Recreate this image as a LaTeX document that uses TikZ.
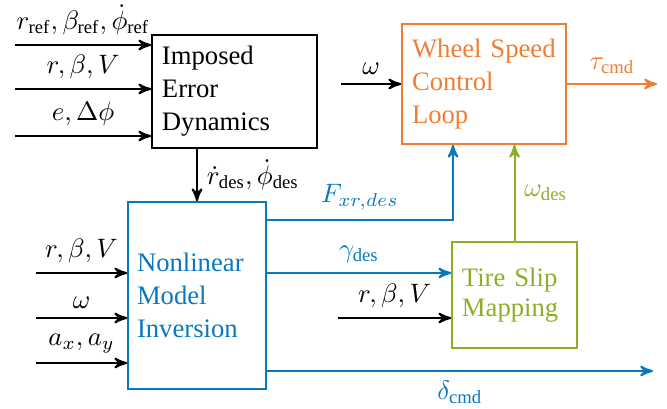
\documentclass[tikz,border=0pt]{standalone}
\usepackage{fontspec}
\setmainfont{Liberation Serif}
\usetikzlibrary{arrows}
\definecolor{wsorange}{RGB}{240,125,50}
\definecolor{nmiblue}{RGB}{10,120,190}
\definecolor{tsgreen}{RGB}{140,175,40}
\tikzstyle{block} = [rectangle, draw, line width=0.6pt, inner xsep=3.75pt,
    align=left, font=\fontsize{10}{12.4}\selectfont]
\tikzstyle{line} = [draw, line width=0.75pt, -stealth']

\begin{document}
\begin{tikzpicture}[x=0.375pt, y=-0.375pt]
		\useasboundingbox (0,0) rectangle (667,409);
		\node [block, minimum width=61.9pt, minimum height=42.4pt, text width=54.4pt] (ied) at (234.5,91.5) {Imposed\\Error\\Dynamics};
		\node [block, nmiblue, minimum width=51.75pt, minimum height=70.1pt, text width=45pt, inner xsep=3.4pt] (nmi) at (197,295.5) {Nonlinear\\Model\\Inversion};
		\node [block, wsorange, minimum width=61.5pt, minimum height=45pt, text width=54pt] (wsc) at (484,84) {Wheel Speed\\Control\\Loop};
		\node [block, tsgreen, minimum width=46.9pt, minimum height=39.75pt, text width=39.4pt, font=\fontsize{10}{11.3}\selectfont] (tsm) at (514.5,295) {Tire Slip\\Mapping};
		
		% inputs
		\coordinate (ref) at (15,45);
		\coordinate (meas) at (15,89);
		\coordinate (err) at (15,136);
		\coordinate (nin1) at (36,273);
		\coordinate (nin2) at (36,318);
		\coordinate (nin3) at (36,363);
		\coordinate (win) at (341,84);
		\coordinate (tin) at (338,318);
		% outputs
		\coordinate (fxr) at (453,220);
		\coordinate (gam) at (0,273);
		\coordinate (dcmd) at (653,371);
		\coordinate (tau) at (657,84);
		
		\path [line] (ref) -- node[above] {$r_{\mathrm{ref}},\beta_{\mathrm{ref}},\dot{\phi}_{\mathrm{ref}}$} (ref -| ied.west);
		\path [line] (meas) -- node[above] {$r,\beta,V$} (meas -| ied.west);
		\path [line] (err) -- node[above] {$e,\Delta\phi$} (err -| ied.west);
		\path [line] (ied.south -| nmi.north) -- node[right] {$\dot{r}_{\mathrm{des}},\dot{\phi}_{\mathrm{des}}$} (nmi.north);
		\path [line] (nin1) -- node[above] {$r,\beta,V$} (nin1 -| nmi.west);
		\path [line] (nin2) -- node[above] {$\omega$} (nin2 -| nmi.west);
		\path [line] (nin3) -- node[above] {$a_x,a_y$} (nin3 -| nmi.west);
		\path [line] (win) -- node[above] {$\omega$} (wsc.west);
		\path [line] (tin) -- node[above] {$r,\beta,V$} (tin -| tsm.west);
		\path [line, nmiblue] (nmi.east |- fxr) -- node[above] {$F_{xr,des}$} (fxr) -- (fxr |- wsc.south);
		\path [line, nmiblue] (nmi.east |- gam) -- node[above] {$\gamma_{\mathrm{des}}$} (tsm.west |- gam);
		\path [line, nmiblue] (nmi.east |- dcmd) -- node[below] {$\delta_{\mathrm{cmd}}$} (dcmd);
		\path [line, tsgreen] (tsm.north) -- node[right] {$\omega_{\mathrm{des}}$} (tsm.north |- wsc.south);
		\path [line, wsorange] (wsc.east) -- node[above] {$\tau_{\mathrm{cmd}}$} (tau);
	\end{tikzpicture}
\end{document}
